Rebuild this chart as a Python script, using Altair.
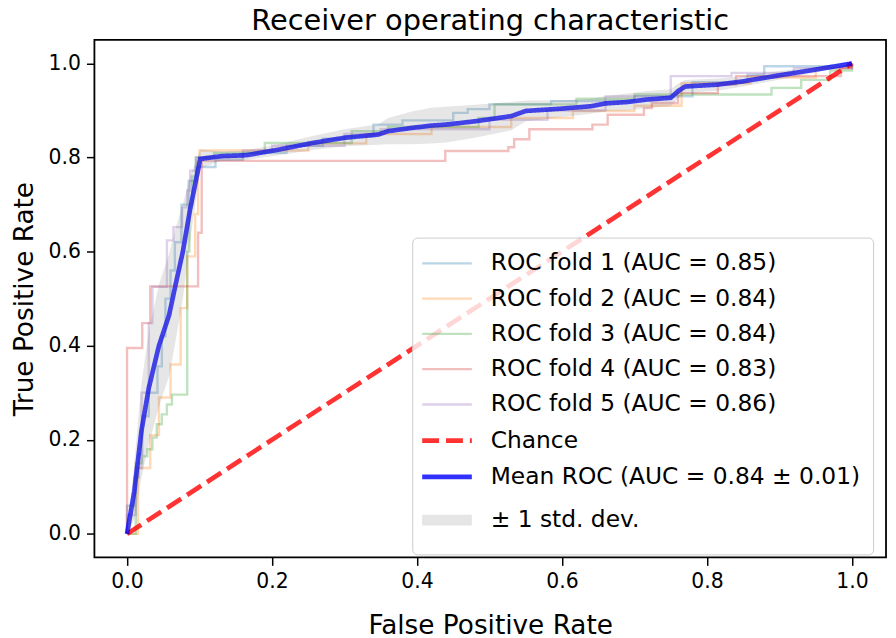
import altair as alt
import pandas as pd

# ---------------- data ----------------
series_labels = [
    "ROC fold 1 (AUC = 0.85)",
    "ROC fold 2 (AUC = 0.84)",
    "ROC fold 3 (AUC = 0.84)",
    "ROC fold 4 (AUC = 0.83)",
    "ROC fold 5 (AUC = 0.86)",
    "Chance",
    "Mean ROC (AUC = 0.84 \u00b1 0.01)",
    "\u00b1 1 std. dev.",
]
series_colors = ["#1f77b4", "#ff7f0e", "#2ca02c", "#d62728", "#9467bd", "red", "blue", "grey"]

# step points of each fold: at fpr[i] the tpr jumps to tpr[i]
fold1_fpr = [0.0, 0.010, 0.016, 0.021, 0.030, 0.042, 0.048, 0.053, 0.060, 0.066, 0.075, 0.085, 0.095, 0.122, 0.16, 0.22, 0.27, 0.30, 0.34, 0.38, 0.45, 0.47, 0.50, 0.585, 0.70, 0.78, 0.856, 0.879, 1.0]
fold1_tpr = [0.06, 0.12, 0.17, 0.25, 0.30, 0.356, 0.42, 0.50, 0.56, 0.62, 0.70, 0.75, 0.78, 0.795, 0.81, 0.825, 0.84, 0.845, 0.870, 0.879, 0.895, 0.903, 0.913, 0.92, 0.93, 0.96, 0.976, 0.994, 1.0]

fold2_fpr = [0.015, 0.032, 0.044, 0.060, 0.074, 0.083, 0.094, 0.098, 0.100, 0.25, 0.33, 0.42, 0.53, 0.615, 0.70, 0.765, 0.86, 0.95, 1.0]
fold2_tpr = [0.14, 0.21, 0.29, 0.36, 0.48, 0.59, 0.68, 0.793, 0.815, 0.83, 0.85, 0.865, 0.884, 0.899, 0.91, 0.958, 0.97, 0.99, 1.0]

fold3_fpr = [0.012, 0.021, 0.028, 0.035, 0.041, 0.048, 0.055, 0.062, 0.083, 0.086, 0.090, 0.095, 0.12, 0.19, 0.31, 0.36, 0.485, 0.507, 0.62, 0.70, 0.889, 0.93, 0.97, 1.0]
fold3_tpr = [0.15, 0.165, 0.18, 0.205, 0.233, 0.254, 0.275, 0.296, 0.60, 0.70, 0.76, 0.80, 0.81, 0.831, 0.856, 0.865, 0.884, 0.913, 0.925, 0.934, 0.948, 0.965, 0.985, 1.0]

fold4_fpr = [0.0, 0.021, 0.032, 0.098, 0.103, 0.439, 0.526, 0.534, 0.555, 0.642, 0.663, 0.713, 0.724, 0.76, 0.815, 0.84, 0.985, 1.0]
fold4_tpr = [0.395, 0.448, 0.526, 0.64, 0.793, 0.814, 0.822, 0.839, 0.86, 0.870, 0.891, 0.905, 0.916, 0.937, 0.955, 0.973, 0.99, 1.0]

fold5_fpr = [0.0, 0.012, 0.020, 0.030, 0.035, 0.055, 0.064, 0.076, 0.083, 0.087, 0.095, 0.16, 0.20, 0.30, 0.35, 0.50, 0.58, 0.66, 0.75, 0.834, 0.92, 1.0]
fold5_tpr = [0.04, 0.14, 0.30, 0.448, 0.525, 0.624, 0.652, 0.694, 0.73, 0.772, 0.80, 0.815, 0.825, 0.85, 0.86, 0.88, 0.90, 0.93, 0.973, 0.98, 0.99, 1.0]

chance_fpr = [0.0, 1.0]
chance_tpr = [0.0, 1.0]

mean_fpr = [0.0, 0.01, 0.02, 0.03, 0.044, 0.058, 0.067, 0.077, 0.087, 0.101, 0.13, 0.165, 0.21, 0.256, 0.30, 0.347, 0.36, 0.393, 0.42, 0.44, 0.48, 0.53, 0.55, 0.60, 0.64, 0.66, 0.69, 0.715, 0.75, 0.76, 0.77, 0.815, 0.85, 0.905, 0.95, 1.0]
mean_tpr = [0.0, 0.09, 0.22, 0.31, 0.40, 0.465, 0.53, 0.60, 0.69, 0.797, 0.803, 0.805, 0.817, 0.831, 0.842, 0.849, 0.856, 0.863, 0.868, 0.870, 0.877, 0.888, 0.899, 0.904, 0.909, 0.915, 0.918, 0.923, 0.927, 0.941, 0.951, 0.955, 0.962, 0.976, 0.987, 1.0]
std_tpr = [0.0, 0.06, 0.10, 0.12, 0.13, 0.13, 0.12, 0.10, 0.07, 0.02, 0.01, 0.01, 0.012, 0.015, 0.018, 0.022, 0.028, 0.035, 0.038, 0.038, 0.035, 0.03, 0.022, 0.018, 0.016, 0.016, 0.018, 0.018, 0.018, 0.016, 0.014, 0.013, 0.011, 0.009, 0.006, 0.0]

x_ticks = [0.0, 0.2, 0.4, 0.6, 0.8, 1.0]
y_ticks = [0.0, 0.2, 0.4, 0.6, 0.8, 1.0]

# ---------------- tables ----------------
def step_rows(label, fpr, tpr):
    rows = [dict(series=label, x=0.0, y=0.0, order=0)]
    prev = 0.0
    k = 1
    for fx, ty in zip(fpr, tpr):
        rows.append(dict(series=label, x=fx, y=prev, order=k)); k += 1
        rows.append(dict(series=label, x=fx, y=ty, order=k)); k += 1
        prev = ty
    return rows

fold_rows = []
for lab, f, t in zip(series_labels[:5],
                     [fold1_fpr, fold2_fpr, fold3_fpr, fold4_fpr, fold5_fpr],
                     [fold1_tpr, fold2_tpr, fold3_tpr, fold4_tpr, fold5_tpr]):
    fold_rows += step_rows(lab, f, t)
folds_df = pd.DataFrame(fold_rows)

chance_df = pd.DataFrame(dict(series=series_labels[5], x=chance_fpr, y=chance_tpr,
                              order=list(range(len(chance_fpr)))))
mean_df = pd.DataFrame(dict(series=series_labels[6], x=mean_fpr, y=mean_tpr,
                            order=list(range(len(mean_fpr)))))
band_df = pd.DataFrame(dict(
    x=mean_fpr,
    lo=[max(m - s, 0.0) for m, s in zip(mean_tpr, std_tpr)],
    hi=[min(m + s, 1.0) for m, s in zip(mean_tpr, std_tpr)],
))

# ---------------- chart ----------------
FONT = "DejaVu Sans"
widths = [2.4] * 5 + [4.7, 4.7, 11]
dashes = [[1, 0]] * 5 + [[17, 7], [1, 0], [1, 0]]
opac = [0.3] * 5 + [0.8, 0.8, 0.2]

x_scale = alt.Scale(domain=[-0.045, 1.047], nice=False, zero=False)
y_scale = alt.Scale(domain=[-0.05, 1.05], nice=False, zero=False)
x_enc = alt.X("x:Q", scale=x_scale,
              axis=alt.Axis(values=x_ticks, format=".1f", title="False Positive Rate",
                            titlePadding=21))
y_enc = alt.Y("y:Q", scale=y_scale,
              axis=alt.Axis(values=y_ticks, format=".1f", title="True Positive Rate",
                            titlePadding=10))

# a horizontal handle twice as long as the nominal symbol size, so rows can stay compact
legend = alt.Legend(title=None, orient="none", legendX=320, legendY=199,
                    symbolType="M-2,0H2", symbolSize=625, symbolOffset=5,
                    labelFont=FONT, labelFontSize=23.5, labelColor="black",
                    labelOffset=26, rowPadding=9.5, padding=12,
                    strokeColor="#cccccc", fillColor="rgba(255,255,255,0.8)",
                    cornerRadius=5, labelLimit=600)


def line_layer(df):
    return alt.Chart(df).mark_line().encode(
        x=x_enc,
        y=y_enc,
        order="order:Q",
        color=alt.Color("series:N", scale=alt.Scale(domain=series_labels, range=series_colors),
                        legend=legend),
        strokeWidth=alt.StrokeWidth("series:N", scale=alt.Scale(type="ordinal", domain=series_labels, range=widths)),
        strokeDash=alt.StrokeDash("series:N", scale=alt.Scale(domain=series_labels, range=dashes)),
        opacity=alt.Opacity("series:N", scale=alt.Scale(type="ordinal", domain=series_labels, range=opac)),
    )


band = alt.Chart(band_df).mark_area(color="grey", opacity=0.2).encode(
    x=x_enc,
    y=alt.Y("lo:Q", scale=y_scale),
    y2="hi:Q",
)

chart = alt.layer(
    line_layer(folds_df), line_layer(chance_df), line_layer(mean_df), band
).properties(
    width=797,
    height=521,
    autosize=alt.AutoSizeParams(type="none"),
    padding={"left": 87, "top": 30, "right": 2, "bottom": 78},
    title=alt.TitleParams("Receiver operating characteristic", font=FONT, fontSize=29,
                          fontWeight="normal", color="black", anchor="middle", offset=4),
).configure_axis(
    labelFont=FONT, labelFontSize=20.5, labelColor="black",
    titleFont=FONT, titleFontSize=26.5, titleColor="black", titleFontWeight="normal",
    tickColor="black", tickSize=8, tickWidth=1.5, domain=False, grid=False,
    labelPadding=6,
).configure_view(stroke="black", strokeWidth=1.8)

chart.save("out.html", embed_options={"renderer": "svg", "actions": False})
